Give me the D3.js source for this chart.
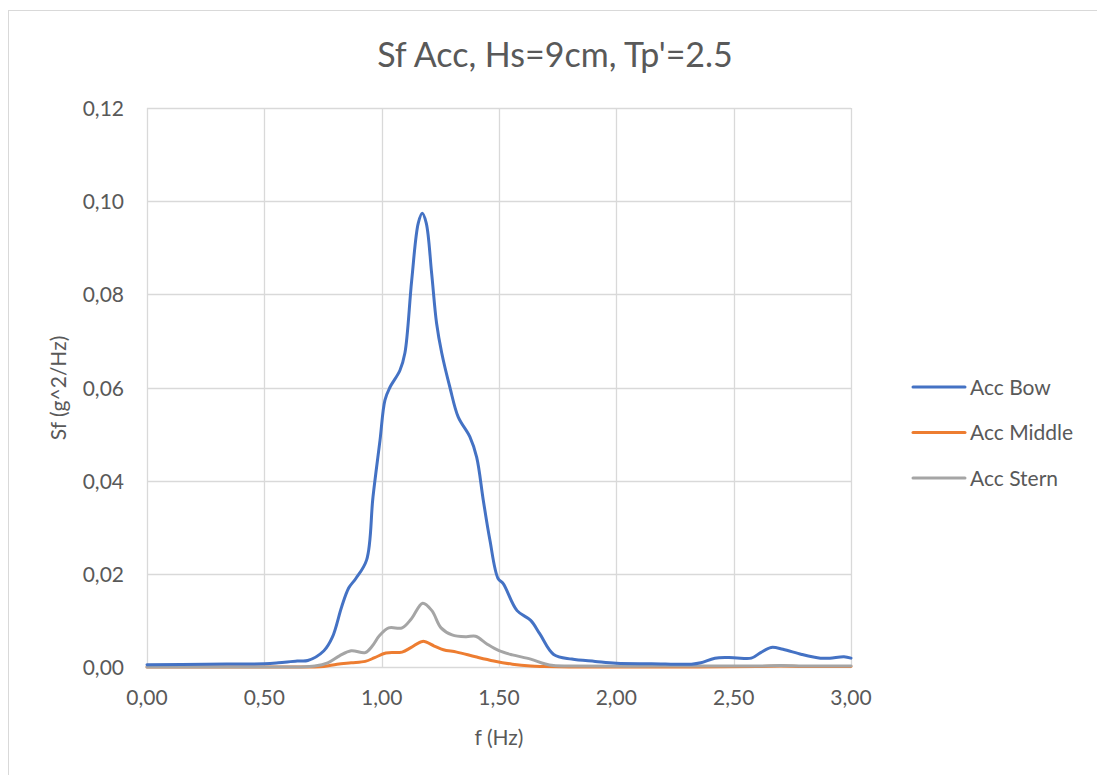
<!DOCTYPE html>
<meta charset="utf-8">
<style>
    body { margin: 0; background: #fff; }
    text { font-family: Lato, "Open Sans", sans-serif; fill: #595959; }
</style>
<svg width="1097" height="775"></svg>
<script src="https://d3js.org/d3.v7.min.js"></script>
<script>

    // values
    var xTicks = [0, 0.5, 1.0, 1.5, 2.0, 2.5, 3.0];
    var yTicks = [0, 0.02, 0.04, 0.06, 0.08, 0.10, 0.12];

    var bowF = [0, 0.25, 0.5, 0.56, 0.64, 0.685, 0.754, 0.79, 0.83, 0.86, 0.89, 0.936, 0.963, 0.993, 1.014, 1.035,
        1.078, 1.099, 1.128, 1.156, 1.173, 1.19, 1.213, 1.234, 1.256, 1.291, 1.326, 1.376, 1.405, 1.433,
        1.461, 1.496, 1.518, 1.577, 1.635, 1.674, 1.733, 1.81, 1.91, 2.0, 2.15, 2.32, 2.36, 2.42, 2.5,
        2.575, 2.615, 2.66, 2.71, 2.79, 2.87, 2.91, 2.97, 3.0];
    var bowV = [0.0005, 0.0006, 0.0007, 0.0009, 0.0013, 0.0014, 0.0035, 0.0064, 0.013, 0.017, 0.019, 0.023, 0.0365, 0.0487, 0.0573, 0.060,
        0.0637, 0.0674, 0.083, 0.0953, 0.0974, 0.0953, 0.0845, 0.0738, 0.0674, 0.060, 0.0537, 0.0494, 0.045, 0.0358,
        0.0273, 0.019, 0.0179, 0.0121, 0.010, 0.0071, 0.0027, 0.0017, 0.0012, 0.0008, 0.0007, 0.0006, 0.0009, 0.0019, 0.002,
        0.0019, 0.0031, 0.0042, 0.0038, 0.0027, 0.0019, 0.0019, 0.0022, 0.0019];

    var midF = [0, 0.5, 0.7, 0.754, 0.81, 0.87, 0.93, 0.97, 1.018, 1.087, 1.126, 1.175, 1.224, 1.263, 1.32, 1.40,
        1.478, 1.557, 1.635, 1.69, 1.8, 2.2, 2.6, 2.7, 2.8, 3.0];
    var midV = [0, 0, 0, 0.0001, 0.0006, 0.0009, 0.0012, 0.002, 0.003, 0.0032, 0.0042, 0.0055, 0.0045, 0.0037, 0.0032, 0.0022,
        0.0013, 0.0006, 0.0002, 0.0001, 0, 0, 0.0001, 0.0002, 0.0001, 0.0001];

    var sternF = [0, 0.5, 0.64, 0.715, 0.77, 0.82, 0.87, 0.93, 0.96, 0.99, 1.03, 1.087, 1.126, 1.175, 1.214, 1.253,
        1.30, 1.36, 1.40, 1.45, 1.50, 1.557, 1.635, 1.694, 1.733, 1.8, 2.2, 2.6, 2.7, 2.8, 3.0];
    var sternV = [0, 0, 0, 0.0002, 0.0009, 0.0024, 0.0035, 0.0031, 0.0045, 0.0067, 0.0084, 0.0084, 0.0103, 0.0137, 0.0121, 0.0084,
        0.0069, 0.0065, 0.0066, 0.0049, 0.0035, 0.0026, 0.0017, 0.0007, 0.0003, 0.0002, 0.0002, 0.0002, 0.0003, 0.0002, 0.0002];

    var seriesNames = ["Acc Bow", "Acc Middle", "Acc Stern"];
    var seriesColors = ["#4472C4", "#ED7D31", "#A5A5A5"];

    var svg = d3.select("svg");

    // chart frame
    svg.append("rect")
        .attr("x", 8.5).attr("y", 10.5)
        .attr("width", 1100).attr("height", 800)
        .attr("fill", "none").attr("stroke", "#d9d9d9");

    var x = d3.scaleLinear().domain([0, 3]).range([147, 851]);
    var y = d3.scaleLinear().domain([0, 0.12]).range([667, 108]);

    var fmt = function (d) { return d3.format(".2f")(d).replace(".", ","); };

    // grid
    svg.append("g").selectAll("line")
        .data(yTicks).enter().append("line")
        .attr("x1", x(0)).attr("x2", x(3))
        .attr("y1", d => Math.round(y(d)) + 0.5).attr("y2", d => Math.round(y(d)) + 0.5)
        .attr("stroke", "#d9d9d9").attr("stroke-width", 1.3);
    svg.append("g").selectAll("line")
        .data(xTicks).enter().append("line")
        .attr("y1", y(0)).attr("y2", y(0.12))
        .attr("x1", d => Math.round(x(d)) + 0.5).attr("x2", d => Math.round(x(d)) + 0.5)
        .attr("stroke", "#d9d9d9").attr("stroke-width", 1.3);

    // tick labels
    svg.append("g").selectAll("text")
        .data(yTicks).enter().append("text")
        .attr("x", 124).attr("y", d => y(d) + 8)
        .attr("text-anchor", "end").attr("font-size", 21)
        .text(fmt);
    svg.append("g").selectAll("text")
        .data(xTicks).enter().append("text")
        .attr("x", d => x(d)).attr("y", 705)
        .attr("text-anchor", "middle").attr("font-size", 21)
        .text(fmt);

    // titles
    svg.append("text")
        .attr("x", 555).attr("y", 67)
        .attr("text-anchor", "middle").attr("font-size", 34)
        .text("Sf Acc, Hs=9cm, Tp'=2.5");
    svg.append("text")
        .attr("x", 499).attr("y", 745)
        .attr("text-anchor", "middle").attr("font-size", 21)
        .text("f (Hz)");
    svg.append("text")
        .attr("transform", "translate(66,388) rotate(-90)")
        .attr("text-anchor", "middle").attr("font-size", 21)
        .text("Sf (g^2/Hz)");

    // series
    var line = d3.line()
        .x(d => x(d[0]))
        .y(d => y(d[1]))
        .curve(d3.curveCatmullRom.alpha(0.5));

    var data = [d3.zip(bowF, bowV), d3.zip(midF, midV), d3.zip(sternF, sternV)];
    var drawOrder = [1, 2, 0];

    svg.append("g").selectAll("path")
        .data(drawOrder).enter().append("path")
        .attr("d", i => line(data[i]))
        .attr("fill", "none")
        .attr("stroke", i => seriesColors[i])
        .attr("stroke-width", 3)
        .attr("stroke-linejoin", "round")
        .attr("stroke-linecap", "round");

    // legend
    var legend = svg.append("g").selectAll("g")
        .data(seriesNames).enter().append("g")
        .attr("transform", (d, i) => "translate(913," + (387 + i * 45.5) + ")");
    legend.append("line")
        .attr("x1", 0).attr("x2", 52)
        .attr("stroke", (d, i) => seriesColors[i])
        .attr("stroke-width", 3).attr("stroke-linecap", "round");
    legend.append("text")
        .attr("x", 57).attr("y", 7.5)
        .attr("font-size", 21)
        .text(d => d);

</script>
